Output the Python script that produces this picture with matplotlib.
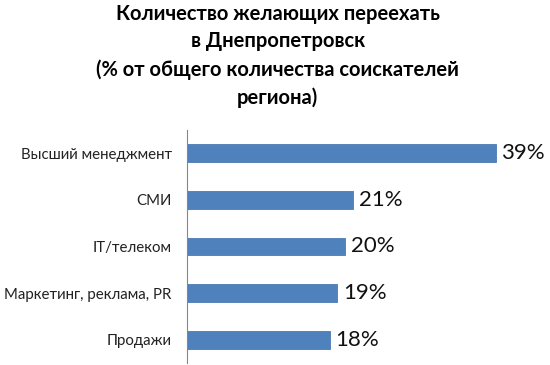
import matplotlib.pyplot as plt

categories = ['Высший менеджмент', 'СМИ', 'IT/телеком', 'Маркетинг, реклама, PR', 'Продажи']
values = [39, 21, 20, 19, 18]
title = 'Количество желающих переехать\nв Днепропетровск\n(% от общего количества соискателей\nрегиона)'

plt.rcParams['font.family'] = ['Lato', 'DejaVu Sans']

fig = plt.figure(figsize=(5.5, 3.65), dpi=100)
ax = fig.add_axes([0.34, 0.0055, 0.62, 0.6385])

y = list(range(len(categories)))
bars = ax.barh(y, values, height=0.38, color='#4F81BD', edgecolor='#4A7AB3', linewidth=0.6)
ax.set_yticks(y)
ax.set_yticklabels(categories, fontsize=10.8, color='#222222')
ax.set_ylim(len(categories) - 0.5, -0.5)
ax.set_xlim(0, 43.05)

for bar, v in zip(bars, values):
    ax.text(bar.get_width() + 0.7, bar.get_y() + bar.get_height() / 2, f'{v}%',
            va='center', ha='left', fontsize=16, color='#111111')

ax.set_xticks([])
ax.tick_params(axis='y', length=0, pad=11)
for s in ['top', 'right', 'bottom']:
    ax.spines[s].set_visible(False)
ax.spines['left'].set_color('#868686')
ax.spines['left'].set_linewidth(0.8)

fig.text(0.505, 0.99, title, ha='center', va='top', fontsize=14.5,
         fontweight='bold', linespacing=1.48, color='#000000')

fig.savefig('out.png', dpi=100)
